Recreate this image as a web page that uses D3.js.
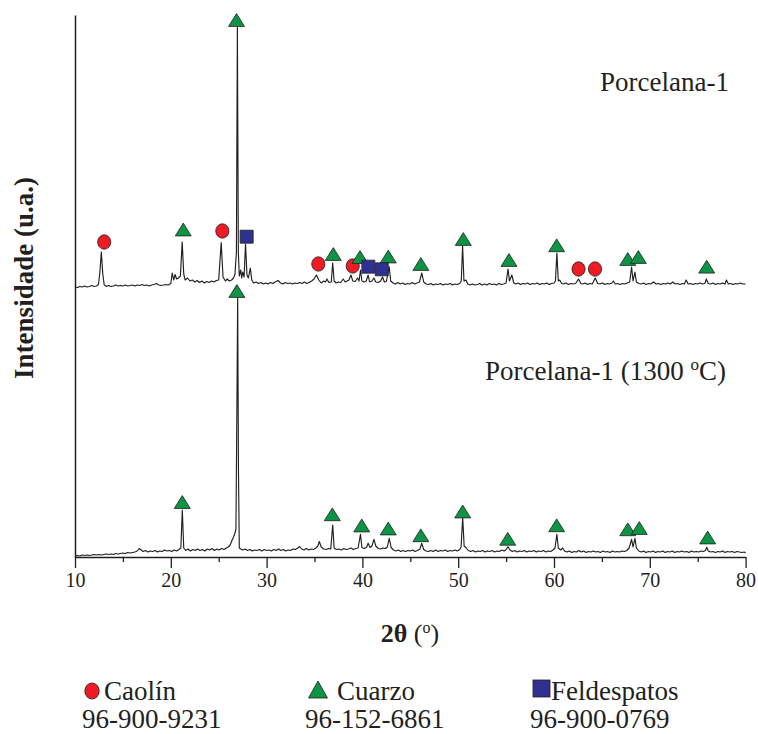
<!DOCTYPE html>
<html>
<head>
<meta charset="utf-8">
<script src="https://cdn.jsdelivr.net/npm/d3@7"></script>
<style>
  html, body { margin: 0; padding: 0; background: #fff; }
  svg { display: block; }
  text { font-family: "Liberation Serif", "Times New Roman", serif; fill: #231f20; }
</style>
</head>
<body>
<svg id="chart" width="758" height="734"></svg>
<script>
// XRD scans: [2θ (deg), counts]
const porcelana1 = [
  [10,50],[10.25,45],[10.5,55],[10.75,50],[11,60],[11.25,50],[11.5,55],[11.75,65],[12,55],[12.25,60],
  [12.45,75],[12.6,200],[12.75,400],[12.9,180],[13.05,70],[13.3,55],[13.5,65],[13.75,55],[14,60],[14.25,70],
  [14.5,60],[14.75,65],[15,60],[15.25,70],[15.5,60],[15.75,65],[16,70],[16.25,60],[16.5,70],[16.75,65],
  [17,75],[17.25,65],[17.5,70],[17.75,60],[18,70],[18.25,75],[18.5,85],[18.75,70],[19,65],[19.25,70],
  [19.5,75],[19.75,70],[20,85],[20.15,190],[20.3,120],[20.45,175],[20.6,130],[20.8,140],[21,160],[21.19,500],
  [21.35,180],[21.5,120],[21.75,140],[22,110],[22.25,120],[22.5,100],[22.75,115],[23,95],[23.25,110],[23.5,90],
  [23.75,105],[24,95],[24.25,110],[24.5,100],[24.75,115],[25,120],[25.26,495],[25.45,150],[25.7,110],[25.9,130],
  [26.1,110],[26.35,120],[26.55,140],[26.7,180],[26.85,400],[26.95,2650],[27.05,400],[27.15,160],[27.3,220],[27.4,140],
  [27.5,200],[27.65,150],[27.8,480],[27.95,170],[28.1,140],[28.3,240],[28.45,120],[28.65,90],[28.9,100],[29.15,85],
  [29.4,95],[29.65,80],[29.9,90],[30.15,80],[30.4,95],[30.65,85],[30.9,100],[31.2,115],[31.45,90],[31.7,80],
  [31.95,95],[32.2,85],[32.45,90],[32.7,80],[32.95,90],[33.2,85],[33.45,95],[33.7,85],[33.95,100],[34.2,85],
  [34.45,95],[34.7,110],[34.95,130],[35.2,170],[35.45,120],[35.7,90],[35.95,110],[36.15,100],[36.3,130],[36.5,95],
  [36.75,100],[36.9,290],[37.05,110],[37.25,90],[37.5,100],[37.75,95],[38,130],[38.2,100],[38.4,110],[38.6,120],
  [38.8,170],[39,110],[39.25,105],[39.5,140],[39.65,110],[39.8,220],[39.95,110],[40.2,100],[40.4,110],[40.6,170],
  [40.75,100],[41,110],[41.2,140],[41.4,100],[41.65,95],[41.9,110],[42.1,150],[42.3,100],[42.5,105],[42.8,253],
  [42.95,110],[43.2,90],[43.45,80],[43.7,95],[43.95,80],[44.2,90],[44.45,75],[44.7,85],[44.95,80],[45.2,95],
  [45.45,80],[45.7,90],[45.95,100],[46.2,190],[46.4,100],[46.65,80],[46.9,75],[47.15,85],[47.4,70],[47.65,80],
  [47.9,75],[48.15,85],[48.4,70],[48.65,80],[48.9,75],[49.15,85],[49.4,70],[49.65,80],[49.9,75],[50.15,85],
  [50.32,110],[50.46,460],[50.6,110],[50.8,120],[51,80],[51.25,70],[51.5,80],[51.75,70],[52,75],[52.25,85],
  [52.5,70],[52.75,80],[53,70],[53.25,85],[53.5,75],[53.75,80],[54,70],[54.25,85],[54.5,75],[54.75,80],
  [55,90],[55.2,230],[55.35,110],[55.6,170],[55.8,90],[56,80],[56.25,90],[56.5,75],[56.75,85],[57,80],
  [57.25,90],[57.5,75],[57.75,85],[58,80],[58.25,90],[58.5,75],[58.75,85],[59,80],[59.25,90],[59.5,75],
  [59.75,85],[60,90],[60.15,110],[60.3,390],[60.45,110],[60.6,120],[60.8,85],[61,80],[61.25,90],[61.5,75],
  [61.75,85],[62,80],[62.25,85],[62.56,130],[62.8,85],[63,80],[63.25,90],[63.5,75],[63.75,85],[64,80],
  [64.3,140],[64.55,85],[64.8,80],[65.05,90],[65.3,75],[65.55,85],[65.8,80],[66.05,90],[66.2,110],[66.4,80],
  [66.65,85],[66.9,75],[67.15,85],[67.4,80],[67.65,90],[67.9,100],[68.1,250],[68.25,110],[68.45,200],[68.6,100],
  [68.85,85],[69.1,80],[69.35,90],[69.6,75],[69.85,85],[70.1,80],[70.4,100],[70.65,80],[70.9,85],[71.15,75],
  [71.4,85],[71.65,80],[71.9,90],[72.15,80],[72.4,100],[72.65,80],[72.9,85],[73.15,75],[73.4,85],[73.6,80],
  [73.8,120],[74,80],[74.25,85],[74.5,75],[74.75,85],[75,80],[75.25,90],[75.5,80],[75.75,85],[75.9,130],
  [76.1,85],[76.35,80],[76.6,90],[76.85,75],[77.1,85],[77.35,80],[77.6,90],[77.85,80],[78,120],[78.2,80],
  [78.45,85],[78.7,75],[78.95,85],[79.2,80],[79.45,90],[79.7,80],[80,80]
];

const porcelana1300 = [
  [10,10],[10.25,15],[10.5,10],[10.75,20],[11,15],[11.25,20],[11.5,15],[11.75,20],[12,25],[12.25,20],
  [12.5,25],[12.75,20],[13,25],[13.25,30],[13.5,25],[13.75,30],[14,25],[14.25,35],[14.5,30],[14.75,35],
  [15,40],[15.25,35],[15.5,45],[15.75,40],[16,45],[16.25,50],[16.5,60],[16.7,85],[16.9,70],[17.1,55],
  [17.35,65],[17.6,50],[17.85,60],[18.1,55],[18.35,65],[18.6,50],[18.85,60],[19.1,55],[19.35,70],[19.6,60],
  [19.85,65],[20.1,55],[20.35,70],[20.6,60],[20.85,75],[21.05,90],[21.2,470],[21.35,90],[21.55,65],[21.8,80],
  [22.05,60],[22.3,75],[22.55,65],[22.8,80],[23.05,65],[23.3,75],[23.55,60],[23.8,80],[24.05,70],[24.3,85],
  [24.55,65],[24.8,80],[25.05,70],[25.3,85],[25.55,75],[25.8,90],[26,100],[26.2,120],[26.4,170],[26.55,200],
  [26.7,240],[26.8,280],[26.9,1500],[26.98,2600],[27.06,900],[27.15,90],[27.3,80],[27.5,70],[27.75,80],[28,65],
  [28.25,75],[28.5,60],[28.75,70],[29,65],[29.25,75],[29.5,60],[29.75,75],[30,65],[30.25,70],[30.5,60],
  [30.75,75],[31,65],[31.25,80],[31.5,65],[31.75,75],[32,60],[32.25,70],[32.5,65],[32.75,80],[33,75],
  [33.25,90],[33.45,105],[33.65,80],[33.9,70],[34.15,85],[34.4,70],[34.65,80],[34.9,75],[35.15,90],[35.35,110],
  [35.5,155],[35.7,100],[35.95,80],[36.2,75],[36.45,85],[36.7,80],[36.9,320],[37.05,90],[37.3,75],[37.55,80],
  [37.8,70],[38.05,85],[38.3,75],[38.55,80],[38.8,90],[39.05,75],[39.3,85],[39.55,90],[39.8,227],[39.95,95],
  [40.2,85],[40.45,100],[40.6,137],[40.8,95],[41,110],[41.2,177],[41.4,110],[41.65,85],[41.9,80],[42.15,90],
  [42.4,85],[42.6,100],[42.8,187],[43,95],[43.25,70],[43.5,60],[43.75,70],[44,55],[44.25,65],[44.5,55],
  [44.75,65],[45,60],[45.25,70],[45.5,55],[45.75,65],[46,80],[46.2,137],[46.4,75],[46.65,60],[46.9,55],
  [47.15,65],[47.4,55],[47.65,70],[47.9,55],[48.15,65],[48.4,60],[48.65,70],[48.9,55],[49.15,65],[49.4,60],
  [49.65,70],[49.9,60],[50.15,75],[50.3,100],[50.47,393],[50.62,110],[50.85,90],[51.05,65],[51.3,55],[51.55,65],
  [51.8,50],[52.05,60],[52.3,55],[52.55,65],[52.8,50],[53.05,60],[53.3,55],[53.55,65],[53.8,50],[54.05,60],
  [54.3,55],[54.55,70],[54.8,60],[55,75],[55.2,103],[55.4,70],[55.65,55],[55.9,65],[56.15,50],[56.4,60],
  [56.65,55],[56.9,65],[57.15,50],[57.4,60],[57.65,55],[57.9,65],[58.15,50],[58.4,60],[58.65,55],[58.9,65],
  [59.15,50],[59.4,60],[59.65,55],[59.9,70],[60.1,90],[60.3,227],[60.45,90],[60.7,70],[60.9,90],[61.1,60],
  [61.35,50],[61.6,60],[61.85,45],[62.1,55],[62.35,50],[62.6,65],[62.85,50],[63.1,60],[63.35,45],[63.6,55],
  [63.85,50],[64.1,60],[64.35,50],[64.6,55],[64.85,45],[65.1,60],[65.35,50],[65.6,55],[65.85,45],[66.1,60],
  [66.35,50],[66.6,55],[66.85,50],[67.1,60],[67.35,55],[67.6,65],[67.85,90],[68.1,177],[68.25,100],[68.45,187],
  [68.6,90],[68.85,60],[69.1,50],[69.35,60],[69.6,45],[69.85,55],[70.1,50],[70.35,60],[70.6,45],[70.85,55],
  [71.1,50],[71.35,60],[71.6,45],[71.85,55],[72.1,50],[72.35,60],[72.6,45],[72.85,55],[73.1,50],[73.35,60],
  [73.6,50],[73.85,55],[74.1,45],[74.35,60],[74.6,50],[74.85,55],[75.1,50],[75.35,60],[75.6,55],[75.8,65],
  [75.95,97],[76.1,60],[76.35,50],[76.6,55],[76.85,45],[77.1,55],[77.35,50],[77.6,60],[77.85,45],[78.1,55],
  [78.35,50],[78.6,55],[78.85,45],[79.1,55],[79.35,50],[79.6,45],[79.85,50],[80,40]
];

// Vertical stacking offsets (counts) for each scan
const scanOffsets = { porcelana1: 2650, porcelana1300: 0 };

// Phase markers: [2θ, counts] placed above the identified reflections
const caolinTop = [[13.05,500],[25.38,610],[35.4,280],[38.99,260],[62.56,230],[64.28,230]];
const cuarzoTop = [[21.3,625],[26.86,2720],[36.96,380],[39.75,350],[42.7,355],[46.1,280],[50.53,530],
                   [55.3,320],[60.28,467],[67.7,330],[68.8,350],[75.94,253]];
const feldespatosTop = [[27.92,553],[40.62,253],[42.02,227]];
const cuarzo1300 = [[21.2,550],[26.9,2660],[36.86,427],[39.93,315],[42.7,285],[46.1,217],[50.47,455],
                    [55.17,182],[60.28,317],[67.7,277],[68.9,290],[76.04,195]];

const xTicksMajor = [10, 20, 30, 40, 50, 60, 70, 80];
const xTicksMinor = [15, 25, 35, 45, 55, 65, 75];

const legendItems = [
  { shape: "circle",   name: "Caolín",      code: "96-900-9231" },
  { shape: "triangle", name: "Cuarzo",      code: "96-152-6861" },
  { shape: "square",   name: "Feldespatos", code: "96-900-0769" }
];

const colors = { circle: "#ed1c24", triangle: "#0b9444", square: "#2e3192" };
const ink = "#231f20";

const svg = d3.select("#chart");

const x = d3.scaleLinear().domain([10, 80]).range([75, 745.6]);
const y = d3.scaleLinear().domain([0, 5420]).range([557, 15]);

// Axes
const xAxisMinor = d3.axisBottom(x).tickValues(xTicksMinor).tickSize(5).tickSizeOuter(0).tickFormat("");
const xAxis = d3.axisBottom(x).tickValues(xTicksMajor).tickSize(11).tickSizeOuter(0).tickPadding(5);

const gMinor = svg.append("g").attr("transform", `translate(0,${y(0)})`).call(xAxisMinor);
gMinor.select(".domain").remove();
gMinor.selectAll("line").attr("stroke", ink).attr("stroke-width", 1.3);

const gx = svg.append("g").attr("transform", `translate(0,${y(0)})`).call(xAxis);
gx.select(".domain").attr("stroke", ink).attr("stroke-width", 1.5);
gx.selectAll(".tick line").attr("stroke", ink).attr("stroke-width", 1.3);
gx.selectAll(".tick text")
  .attr("font-family", "Liberation Serif, serif")
  .attr("font-size", 20)
  .attr("fill", ink)
  .attr("dy", "0.71em");

const gy = svg.append("g").attr("transform", `translate(${x(10)},0)`)
  .call(d3.axisLeft(y).tickValues([]).tickSizeOuter(0));
gy.select(".domain").attr("stroke", ink).attr("stroke-width", 1.5);

// Scans
const line = (offset) => d3.line()
  .x(d => x(d[0]))
  .y(d => y(d[1] + offset));

svg.append("path")
  .datum(porcelana1)
  .attr("fill", "none")
  .attr("stroke", ink)
  .attr("stroke-width", 1.15)
  .attr("stroke-linejoin", "round")
  .attr("d", line(scanOffsets.porcelana1));

svg.append("path")
  .datum(porcelana1300)
  .attr("fill", "none")
  .attr("stroke", ink)
  .attr("stroke-width", 1.15)
  .attr("stroke-linejoin", "round")
  .attr("d", line(scanOffsets.porcelana1300));

// Marker shapes
const shapePath = {
  triangle: (s) => `M0,${-s * 0.8}L${s},${s * 0.8}L${-s},${s * 0.8}Z`,
  square: (s) => `M${-s},${-s}H${s}V${s}H${-s}Z`
};

function drawMarkers(data, shape, offset, size) {
  const g = svg.append("g");
  const sel = g.selectAll("." + shape).data(data).enter();
  if (shape === "circle") {
    sel.append("ellipse")
      .attr("cx", d => x(d[0]))
      .attr("cy", d => y(d[1] + offset))
      .attr("rx", size)
      .attr("ry", size + 0.6)
      .attr("fill", colors.circle)
      .attr("stroke", ink)
      .attr("stroke-width", 0.8);
  } else {
    sel.append("path")
      .attr("transform", d => `translate(${x(d[0])},${y(d[1] + offset)})`)
      .attr("d", shapePath[shape](size))
      .attr("fill", colors[shape])
      .attr("stroke", ink)
      .attr("stroke-width", 0.8);
  }
}

drawMarkers(caolinTop, "circle", scanOffsets.porcelana1, 6.6);
drawMarkers(cuarzoTop, "triangle", scanOffsets.porcelana1, 8);
drawMarkers(feldespatosTop, "square", scanOffsets.porcelana1, 6.5);
drawMarkers(cuarzo1300, "triangle", scanOffsets.porcelana1300, 8);

// Scan labels
svg.append("text")
  .attr("x", 600).attr("y", 91)
  .attr("font-size", 27)
  .text("Porcelana-1");

const lbl2 = svg.append("text")
  .attr("x", 485).attr("y", 380)
  .attr("font-size", 27);
lbl2.append("tspan").text("Porcelana-1 (1300 ");
lbl2.append("tspan").attr("font-size", 17).attr("dy", -10).text("o");
lbl2.append("tspan").attr("dy", 10).text("C)");

// Axis titles
const xt = svg.append("text")
  .attr("x", 410).attr("y", 642)
  .attr("text-anchor", "middle")
  .attr("font-size", 26);
xt.append("tspan").attr("font-weight", "bold").text("2θ ");
xt.append("tspan").text("(");
xt.append("tspan").attr("font-size", 16).attr("dy", -9).text("o");
xt.append("tspan").attr("dy", 9).text(")");

svg.append("text")
  .attr("transform", "translate(33,278) rotate(-90)")
  .attr("text-anchor", "middle")
  .attr("font-size", 27)
  .attr("font-weight", "bold")
  .text("Intensidade (u.a.)");

// Legend
const legendX = [82, 305, 530];
const lg = svg.append("g").selectAll("g").data(legendItems).enter().append("g")
  .attr("transform", (d, i) => `translate(${legendX[i]},0)`);

lg.each(function(d) {
  const g = d3.select(this);
  if (d.shape === "circle") {
    g.append("ellipse").attr("cx", 10).attr("cy", 691).attr("rx", 7.2).attr("ry", 8)
      .attr("fill", colors.circle).attr("stroke", ink).attr("stroke-width", 0.8);
    g.append("text").attr("x", 22).attr("y", 700).attr("font-size", 27).text(d.name);
  } else if (d.shape === "triangle") {
    g.append("path").attr("transform", "translate(13,690)")
      .attr("d", "M0,-9L9.5,8L-9.5,8Z")
      .attr("fill", colors.triangle).attr("stroke", ink).attr("stroke-width", 0.8);
    g.append("text").attr("x", 32).attr("y", 700).attr("font-size", 27).text(d.name);
  } else {
    g.append("rect").attr("x", 3).attr("y", 680).attr("width", 17).attr("height", 17)
      .attr("fill", colors.square).attr("stroke", ink).attr("stroke-width", 0.8);
    g.append("text").attr("x", 21).attr("y", 700).attr("font-size", 27).text(d.name);
  }
  g.append("text").attr("x", 0).attr("y", 728).attr("font-size", 27).text(d.code);
});
</script>
</body>
</html>
